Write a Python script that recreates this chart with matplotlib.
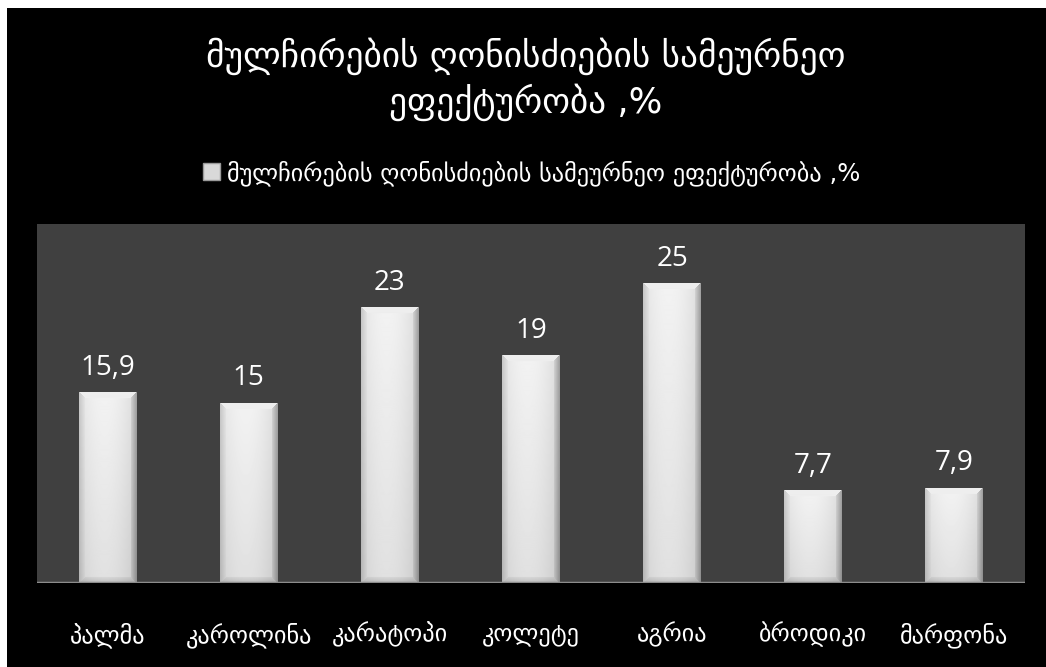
import numpy as np
import matplotlib
matplotlib.use("Agg")
import matplotlib.pyplot as plt
from matplotlib.patches import Rectangle, Patch

plt.rcParams['font.family'] = ['Noto Sans', 'DejaVu Sans']

# Varieties and their economic efficiency of fertilizer application, %
categories = ["პალმა", "კაროლინა", "კარატოპი", "კოლეტე", "აგრია", "ბროდიკი", "მარფონა"]
values = [15.9, 15, 23, 19, 25, 7.7, 7.9]
value_labels = ["15,9", "15", "23", "19", "25", "7,7", "7,9"]
title_text = "მულჩირების ღონისძიების სამეურნეო\nეფექტურობა ,%"
series_name = "მულჩირების ღონისძიების სამეურნეო ეფექტურობა ,%"

W, H = 1046, 667
fig = plt.figure(figsize=(W / 100, H / 100), dpi=100)
fig.patch.set_facecolor("white")
fig.patches.append(Rectangle((7 / W, 0), 1 - 7 / W, 1 - 8 / H, transform=fig.transFigure,
                             facecolor="black", edgecolor="none", zorder=-10))

ax = fig.add_axes([37 / W, 1 - 583 / H, (1025 - 37) / W, (583 - 224) / H])
ax.set_facecolor("#404040")
ax.set_xlim(-0.5, len(categories) - 0.5)
ax.set_ylim(0, 30)


def bevel_image(nx, ny, bevel=6):
    x = np.arange(nx)[None, :].repeat(ny, 0).astype(float)
    y = np.arange(ny)[:, None].repeat(nx, 1).astype(float)
    # soft horizontal shading: bright in the middle, darker towards the sides
    t = x / (nx - 1)
    base = 0.95 - 0.08 * (np.abs(t - 0.45) * 2) ** 2
    # slight vertical fade towards the bottom
    base -= 0.07 * (y / max(ny - 1, 1))
    img = base.copy()
    dl, dr = x, nx - 1 - x
    dt, db = y, ny - 1 - y
    left = (dl < bevel) & (dl <= dt) & (dl <= db)
    right = (dr < bevel) & (dr <= dt) & (dr <= db)
    top = (dt < bevel) & (dt < dl) & (dt < dr)
    bottom = (db < bevel) & (db < dl) & (db < dr)
    img[left] = base[left] - 0.10 + 0.015 * dl[left]
    img[right] = base[right] - 0.22 + 0.03 * dr[right]
    img[top] = 0.93
    img[bottom] = base[bottom] - 0.12 + 0.015 * db[bottom]
    return np.clip(img, 0, 1)


bar_w = 0.41
px_per_unit = (583 - 224) / 30
for i, v in enumerate(values):
    nx = 58
    ny = max(int(round(v * px_per_unit)), 2)
    img = bevel_image(nx, ny)
    ax.imshow(img, cmap="gray", vmin=0, vmax=1, origin="upper", aspect="auto",
              extent=(i - bar_w / 2, i + bar_w / 2, 0, v), zorder=2, interpolation="bilinear")
    ax.text(i, v + 2.1, value_labels[i], ha="center", va="center", color="white",
            fontsize=20, family=["Open Sans", "DejaVu Sans"], zorder=3)

ax.axhline(0, color="#8c8c8c", lw=2.5, zorder=4)
for s in ax.spines.values():
    s.set_visible(False)
ax.set_yticks([])
ax.set_xticks(range(len(categories)))
ax.set_xticklabels(categories, color="white", fontsize=17.5, family=["DejaVu Sans"])
ax.tick_params(axis="x", length=0, pad=28)

fig.text(526 / W, 1 - 79 / H, title_text, ha="center", va="center", color="white",
         fontsize=25.5, family=["DejaVu Sans"], linespacing=1.3)

handle = Patch(facecolor="#d9d9d9", edgecolor="#9a9a9a", linewidth=1)
leg = fig.legend([handle], [series_name], loc="center", bbox_to_anchor=(532 / W, 1 - 173 / H),
                 frameon=False, handlelength=0.7, handleheight=0.7,
                 handletextpad=0.3, prop={"family": ["DejaVu Sans"], "size": 17.5})
for t in leg.get_texts():
    t.set_color("white")

fig.savefig("out.png", dpi=100, facecolor=fig.get_facecolor())
